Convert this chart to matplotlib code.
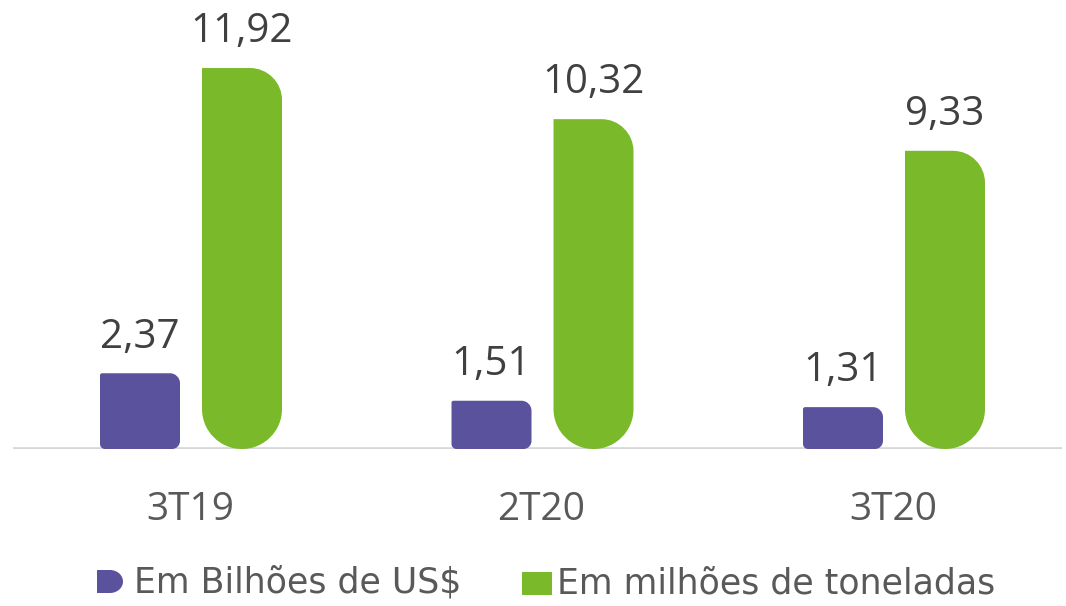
import numpy as np
import matplotlib
matplotlib.use("Agg")
import matplotlib.pyplot as plt
from matplotlib.path import Path
from matplotlib.patches import PathPatch, Ellipse, Rectangle

plt.rcParams['font.family'] = ['Open Sans', 'DejaVu Sans']

categories = ["3T19", "2T20", "3T20"]
bilhoes = [2.37, 1.51, 1.31]
toneladas = [11.92, 10.32, 9.33]
labels_bilhoes = ["2,37", "1,51", "1,31"]
labels_toneladas = ["11,92", "10,32", "9,33"]
legend_labels = ["Em Bilhões de US$", "Em milhões de toneladas"]

purple = "#5b529e"
green = "#7ab92a"

W, H, DPI = 1066, 606, 100
fig = plt.figure(figsize=(W / DPI, H / DPI), dpi=DPI)
base_px = 157  # baseline from bottom
ax = fig.add_axes([0, base_px / H, 1, (H - base_px) / H])
ky = 31.96  # px per unit
kx = 351.5  # px per category
ax.set_ylim(0, (H - base_px) / ky)
ax.set_xlim(-190 / kx, (W - 190) / kx)
ax.axis("off")


def kappa_arc(cx, cy, rx, ry, a0, a1):
    # quarter arc as one cubic bezier
    k = 0.5523
    p0 = (cx + rx * np.cos(a0), cy + ry * np.sin(a0))
    p3 = (cx + rx * np.cos(a1), cy + ry * np.sin(a1))
    d = np.sign(a1 - a0)
    c1 = (p0[0] - k * rx * np.sin(a0) * d, p0[1] + k * ry * np.cos(a0) * d)
    c2 = (p3[0] + k * rx * np.sin(a1) * d, p3[1] - k * ry * np.cos(a1) * d)
    return [c1, c2, p3]


def round_bar(x0, w, h, rbl, rbr, rtr, rtl, color):
    # radii in pixels -> data units
    x1 = x0 + w
    verts = [(x0 + rbl / kx, 0)]
    codes = [Path.MOVETO]
    verts.append((x1 - rbr / kx, 0)); codes.append(Path.LINETO)
    if rbr:
        verts += kappa_arc(x1 - rbr / kx, rbr / ky, rbr / kx, rbr / ky, -np.pi / 2, 0)
        codes += [Path.CURVE4] * 3
    verts.append((x1, h - rtr / ky)); codes.append(Path.LINETO)
    if rtr:
        verts += kappa_arc(x1 - rtr / kx, h - rtr / ky, rtr / kx, rtr / ky, 0, np.pi / 2)
        codes += [Path.CURVE4] * 3
    verts.append((x0 + rtl / kx, h)); codes.append(Path.LINETO)
    if rtl:
        verts += kappa_arc(x0 + rtl / kx, h - rtl / ky, rtl / kx, rtl / ky, np.pi / 2, np.pi)
        codes += [Path.CURVE4] * 3
    verts.append((x0, rbl / ky)); codes.append(Path.LINETO)
    if rbl:
        verts += kappa_arc(x0 + rbl / kx, rbl / ky, rbl / kx, rbl / ky, np.pi, 1.5 * np.pi)
        codes += [Path.CURVE4] * 3
    verts.append(verts[0]); codes.append(Path.CLOSEPOLY)
    ax.add_patch(PathPatch(Path(verts, codes), facecolor=color, edgecolor="none", zorder=3))


bw = 80 / kx
off_p = -90 / kx
off_g = 12 / kx
x = np.arange(len(categories))

for i in range(len(categories)):
    round_bar(x[i] + off_p, bw, bilhoes[i], 5, 8, 10, 2, purple)
    round_bar(x[i] + off_g, bw, toneladas[i], 40, 40, 32, 0, green)
    ax.annotate(labels_bilhoes[i], (x[i] + off_p + bw / 2, bilhoes[i]),
                xytext=(0, 18.5), textcoords="offset points", ha="center",
                va="baseline", fontsize=29, color="#404040")
    ax.annotate(labels_toneladas[i], (x[i] + off_g + bw / 2, toneladas[i]),
                xytext=(0, 18.5), textcoords="offset points", ha="center",
                va="baseline", fontsize=29, color="#404040")
    ax.annotate(categories[i], (x[i], 0), xytext=(0, -51), textcoords="offset points",
                ha="center", va="baseline", fontsize=28, color="#595959")

# axis line
ax.plot([(13 - 190) / kx, (W - 4 - 190) / kx], [0, 0], color="#d6d6d6",
        lw=2.6, zorder=2, solid_capstyle="butt")

# legend (drawn by hand in figure coords)
fig.patches.append(Rectangle((97 / W, (H - 593) / H), 14 / W, 23 / H,
                             transform=fig.transFigure, facecolor=purple,
                             edgecolor="none"))
fig.patches.append(Ellipse((110 / W, (H - 581.5) / H), 26 / W, 23 / H,
                           transform=fig.transFigure, facecolor=purple,
                           edgecolor="none"))
fig.patches.append(Rectangle((522 / W, (H - 595) / H), 30 / W, 23 / H,
                             transform=fig.transFigure, facecolor=green,
                             edgecolor="none"))
fig.text(134 / W, (H - 593) / H, legend_labels[0], fontsize=25, color="#595959",
         va="baseline", ha="left", family="DejaVu Sans")
fig.text(557 / W, (H - 593) / H, legend_labels[1], fontsize=25, color="#595959",
         va="baseline", ha="left", family="DejaVu Sans")

fig.savefig("out.png", dpi=DPI, facecolor="white")
